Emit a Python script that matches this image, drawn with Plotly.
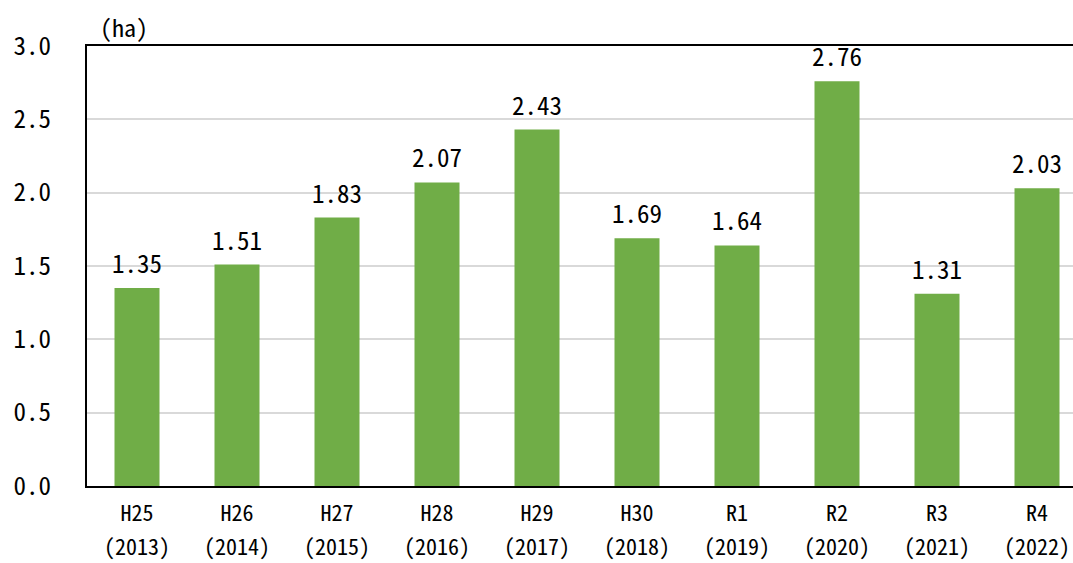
import plotly.graph_objects as go

# Annual area (ha), fiscal year labels in Japanese era + Gregorian year
eras = ["H25", "H26", "H27", "H28", "H29", "H30", "R1", "R2", "R3", "R4"]
years = ["2013", "2014", "2015", "2016", "2017", "2018", "2019", "2020", "2021", "2022"]
area_ha = [1.35, 1.51, 1.83, 2.07, 2.43, 1.69, 1.64, 2.76, 1.31, 2.03]
y_ticks = [0.0, 0.5, 1.0, 1.5, 2.0, 2.5, 3.0]
unit_label = "(ha)"

FONT = "Noto Sans Mono CJK JP, DejaVu Sans Mono, monospace"
GREEN = "#70AD47"

positions = list(range(len(eras)))

fig = go.Figure(
    go.Bar(
        x=positions,
        y=area_ha,
        marker=dict(color=GREEN, line=dict(width=0)),
        cliponaxis=False,
    )
)

# value labels sitting just above each bar
for xi, v in zip(positions, area_ha):
    fig.add_annotation(
        x=xi, y=v,
        xref="x", yref="y",
        text=f"{v:.2f}",
        showarrow=False,
        xanchor="center", yanchor="bottom",
        yshift=6,
        font=dict(family=FONT, size=25, color="#000000"),
    )

# Gregorian year as a second row under each era label
for xi, yr in zip(positions, years):
    fig.add_annotation(
        x=xi, y=0,
        xref="x", yref="paper",
        text=f"({yr})",
        showarrow=False,
        xanchor="center", yanchor="bottom",
        yshift=-76,
        borderpad=0,
        font=dict(family=FONT, size=22, color="#000000"),
    )

fig.update_layout(
    width=1073,
    height=563,
    margin=dict(l=87, r=0, t=46, b=77),
    paper_bgcolor="white",
    plot_bgcolor="white",
    bargap=0.55,
    showlegend=False,
    font=dict(family=FONT, size=23, color="#000000"),
)

fig.update_xaxes(
    range=[-0.5, 9.36],
    tickmode="array",
    tickvals=positions,
    ticktext=eras,
    showline=True,
    linecolor="#000000",
    linewidth=2,
    mirror=True,
    showgrid=False,
    ticks="",
    tickfont=dict(family=FONT, size=22),
    ticklabelstandoff=7,
    ticklabeloverflow="allow",
)

fig.update_yaxes(
    range=[0, 3.0],
    tickmode="array",
    tickvals=y_ticks,
    ticktext=[f"{t:.1f}" for t in y_ticks],
    showline=True,
    linecolor="#000000",
    linewidth=2,
    showgrid=True,
    gridcolor="#d9d9d9",
    gridwidth=1.5,
    zeroline=False,
    ticks="",
    tickfont=dict(family=FONT, size=25),
    ticklabelstandoff=29,
)

fig.add_annotation(
    text=unit_label,
    xref="paper", yref="paper",
    x=0.011, y=1.0,
    xanchor="left", yanchor="bottom",
    yshift=0,
    showarrow=False,
    font=dict(family=FONT, size=24),
)

fig.write_html("out.html")
